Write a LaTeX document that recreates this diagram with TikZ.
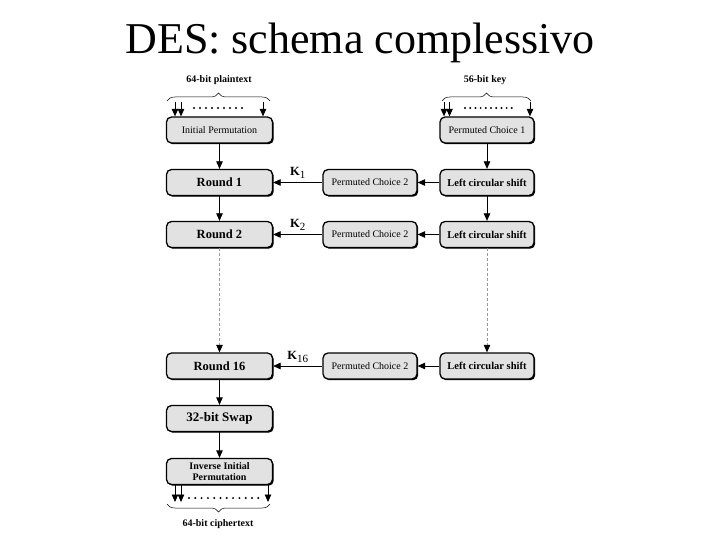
\documentclass[tikz,border=0pt]{standalone}
\usepackage{fontspec}
\setmainfont{Liberation Serif}
\usetikzlibrary{arrows.meta,decorations.pathreplacing,shadows,calc}
\definecolor{boxgray}{HTML}{E2E2E2}
\tikzset{
  flow/.style={-{Triangle[width=6.5pt,length=7.5pt]},line width=0.8pt},
  dotflow/.style={-{Triangle[width=6.5pt,length=7.5pt,black]},draw=gray!80,densely dashed,line width=0.7pt},
  blk/.style={draw,line width=1.3pt,rounded corners=5pt,fill=boxgray,inner sep=1pt,align=center,
    drop shadow={shadow xshift=1.2pt,shadow yshift=-1.2pt,opacity=1,fill=black}},
  lbox/.style={blk,minimum width=106pt,minimum height=26pt},
  rbox/.style={blk,minimum width=94pt,minimum height=26pt},
  brc/.style={decorate,decoration={brace,amplitude=8pt},line width=0.5pt},
  lbl/.style={font=\bfseries\fontsize{10}{11}\selectfont},
}
\newcommand{\rmsmall}{\fontsize{10}{11}\selectfont}
\newcommand{\bfround}{\bfseries\fontsize{12.5}{13}\selectfont}
\newcommand{\dotrow}[4]{% y, first x, step, count-1
  \foreach \i in {0,...,#4} \fill (#2+\i*#3,#1) circle (1.1pt);
}
\newcommand{\kname}[1]{K\raisebox{-3pt}{\normalfont\fontsize{11}{11}\selectfont #1}}

\begin{document}
\begin{tikzpicture}[x=1pt,y=-1pt]
\useasboundingbox (0,0) rectangle (720,540);
\node[font=\fontsize{44}{48}\selectfont,anchor=base] (title) at (360,54) {DES: schema complessivo};

% data path
\node[lbox,font=\rmsmall] (ip) at (219.5,130) {Initial Permutation};
\node[lbox,font=\bfround] (r1) at (219.5,182.5) {Round 1};
\node[lbox,font=\bfround] (r2) at (219.5,234.5) {Round 2};
\node[lbox,font=\bfround] (r16) at (219.5,366) {Round 16};
\node[lbox,font=\bfseries\fontsize{13}{14}\selectfont] (swap) at (219.5,418.5) {32-bit Swap};
\node[lbox,font=\bfseries\fontsize{10}{10.5}\selectfont] (iip) at (219.5,471.5) {Inverse Initial\\Permutation};

% key schedule
\node[rbox,font=\rmsmall] (pc1) at (487,130) {Permuted Choice 1};
\node[rbox,font=\bfseries\fontsize{10.5}{11}\selectfont] (ls1) at (487,182.5) {Left circular shift};
\node[rbox,font=\bfseries\fontsize{10.5}{11}\selectfont] (ls2) at (487,234.5) {Left circular shift};
\node[rbox,font=\bfseries\fontsize{10.5}{11}\selectfont] (ls16) at (487,366) {Left circular shift};
\node[rbox,font=\rmsmall] (pcb1) at (370,182.5) {Permuted Choice 2};
\node[rbox,font=\rmsmall] (pcb2) at (370,234.5) {Permuted Choice 2};
\node[rbox,font=\rmsmall] (pcb16) at (370,366) {Permuted Choice 2};

\draw[flow] (ip) -- (r1);
\draw[flow] (r1) -- (r2);
\draw[dotflow] (r2) -- (r16);
\draw[flow] (r16) -- (swap);
\draw[flow] (swap) -- (iip);
\draw[flow] (pc1) -- (ls1);
\draw[flow] (ls1) -- (ls2);
\draw[dotflow] (ls2) -- (ls16);
\draw[flow] (ls1) -- (pcb1);
\draw[flow] (ls2) -- (pcb2);
\draw[flow] (ls16) -- (pcb16);
\draw[flow] (pcb1) -- (r1) node[midway,above=0pt,font=\bfround] {\kname{1}};
\draw[flow] (pcb2) -- (r2) node[midway,above=0pt,font=\bfround] {\kname{2}};
\draw[flow] (pcb16) -- (r16) node[midway,above=0pt,font=\bfround] {\kname{16}};

% plaintext input
\node[lbl] (ptx) at (219,80) {64-bit plaintext};
\draw[brc] (167,101) -- (270,101);
\coordinate (pa) at (175,102);
\coordinate (pb) at (181,102);
\coordinate (pc) at (263,102);
\foreach \c in {pa,pb,pc} \draw[flow] (\c) -- (\c |- ip.north);
\dotrow{108}{194}{6}{8}

% key input
\node[lbl] (key) at (485,80) {56-bit key};
\draw[brc] (442,101) -- (531,101);
\coordinate (ka) at (444,102);
\coordinate (kb) at (449.5,102);
\coordinate (kc) at (530,102);
\foreach \c in {ka,kb,kc} \draw[flow] (\c) -- (\c |- pc1.north);
\dotrow{108}{465}{5.2}{9}

% ciphertext output
\coordinate (ca) at (175,502);
\coordinate (cb) at (181,502);
\coordinate (cc) at (268,502);
\foreach \c in {ca,cb,cc} \draw[flow] (\c |- iip.south) -- (\c);
\dotrow{498}{189}{6.3}{11}
\draw[brc] (270,504) -- (167,504);
\node[lbl] (ctx) at (218,524) {64-bit ciphertext};
\end{tikzpicture}
\end{document}
